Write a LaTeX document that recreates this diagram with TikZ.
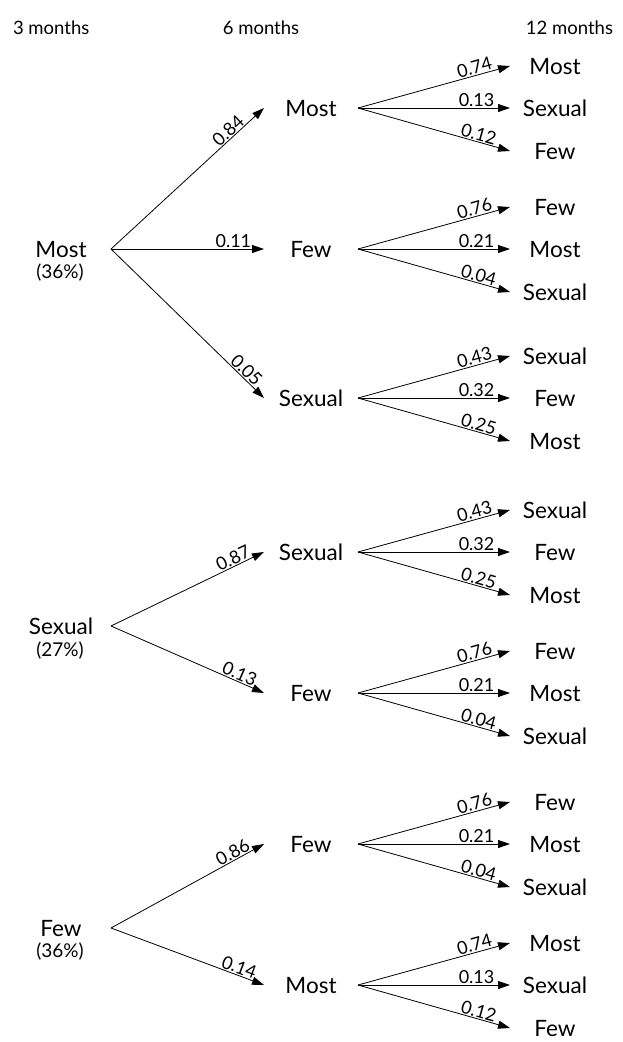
\documentclass[tikz,border=0pt]{standalone}
\usepackage{fontspec}
\setmainfont{Lato}
\usetikzlibrary{arrows.meta}
\tikzset{
  base/.style={inner sep=0pt, outer sep=0pt, text height=16pt, text depth=0pt, font=\fontsize{22.5}{27}\selectfont},
  head/.style={inner sep=0pt, outer sep=0pt, font=\fontsize{18.5}{22}\selectfont},
  lone/.style={base, minimum width=100pt},
  ltwo/.style={base, minimum width=94pt},
  lthree/.style={base, minimum width=90pt},
  pct/.style={inner sep=0pt, font=\fontsize{19}{22}\selectfont},
  arr/.style={line width=0.8pt, -{Triangle[length=12pt,width=8pt]}},
  lab/.style={font=\fontsize{18}{21}\selectfont, sloped, above, inner sep=1pt},
}
\newcommand\fanthree[9]{%
  \node[lthree] (#2a) at (555,{#3-42}) {#4};
  \node[lthree] (#2b) at (555,#3) {#6};
  \node[lthree] (#2c) at (555,{#3+43}) {#8};
  \draw[arr] (#1.east) -- node[lab, pos=0.78] {#5} (#2a.west);
  \draw[arr] (#1.east) -- node[lab, pos=0.78] {#7} (#2b.west);
  \draw[arr] (#1.east) -- node[lab, pos=0.78] {#9} (#2c.west);
}
\begin{document}
\begin{tikzpicture}[x=1pt, y=-1pt]
\useasboundingbox (0,0) rectangle (622,1042);
% headers
\node[head, anchor=west] (h3) at (13,28) {3 months};
\node[head] (h6) at (261,28) {6 months};
\node[head, anchor=east] (h12) at (613,28) {12 months};

% level 1
\node[lone] (A) at (61,249) {Most};
\node[pct] (Ap) at (60,273) {(36\%)};
\node[lone] (B) at (61,626) {Sexual};
\node[pct] (Bp) at (60,651) {(27\%)};
\node[lone] (C) at (61,928) {Few};
\node[pct] (Cp) at (60,952) {(36\%)};

% level 2
\node[ltwo] (A1) at (311,108) {Most};
\node[ltwo] (A2) at (311,249) {Few};
\node[ltwo] (A3) at (311,398) {Sexual};
\node[ltwo] (B1) at (311,552) {Sexual};
\node[ltwo] (B2) at (311,693) {Few};
\node[ltwo] (C1) at (311,844) {Few};
\node[ltwo] (C2) at (311,985) {Most};

\draw[arr] (A.east) -- node[lab, pos=0.8] {0.84} (A1.west);
\draw[arr] (A.east) -- node[lab, pos=0.8] {0.11} (A2.west);
\draw[arr] (A.east) -- node[lab, pos=0.85] {0.05} (A3.west);
\draw[arr] (B.east) -- node[lab, pos=0.82] {0.87} (B1.west);
\draw[arr] (B.east) -- node[lab, pos=0.82] {0.13} (B2.west);
\draw[arr] (C.east) -- node[lab, pos=0.82] {0.86} (C1.west);
\draw[arr] (C.east) -- node[lab, pos=0.82] {0.14} (C2.west);

% level 3
\fanthree{A1}{Aa}{108}{Most}{0.74}{Sexual}{0.13}{Few}{0.12}
\fanthree{A2}{Ab}{249}{Few}{0.76}{Most}{0.21}{Sexual}{0.04}
\fanthree{A3}{Ac}{398}{Sexual}{0.43}{Few}{0.32}{Most}{0.25}
\fanthree{B1}{Ba}{552}{Sexual}{0.43}{Few}{0.32}{Most}{0.25}
\fanthree{B2}{Bb}{693}{Few}{0.76}{Most}{0.21}{Sexual}{0.04}
\fanthree{C1}{Ca}{844}{Few}{0.76}{Most}{0.21}{Sexual}{0.04}
\fanthree{C2}{Cb}{985}{Most}{0.74}{Sexual}{0.13}{Few}{0.12}
\end{tikzpicture}
\end{document}
